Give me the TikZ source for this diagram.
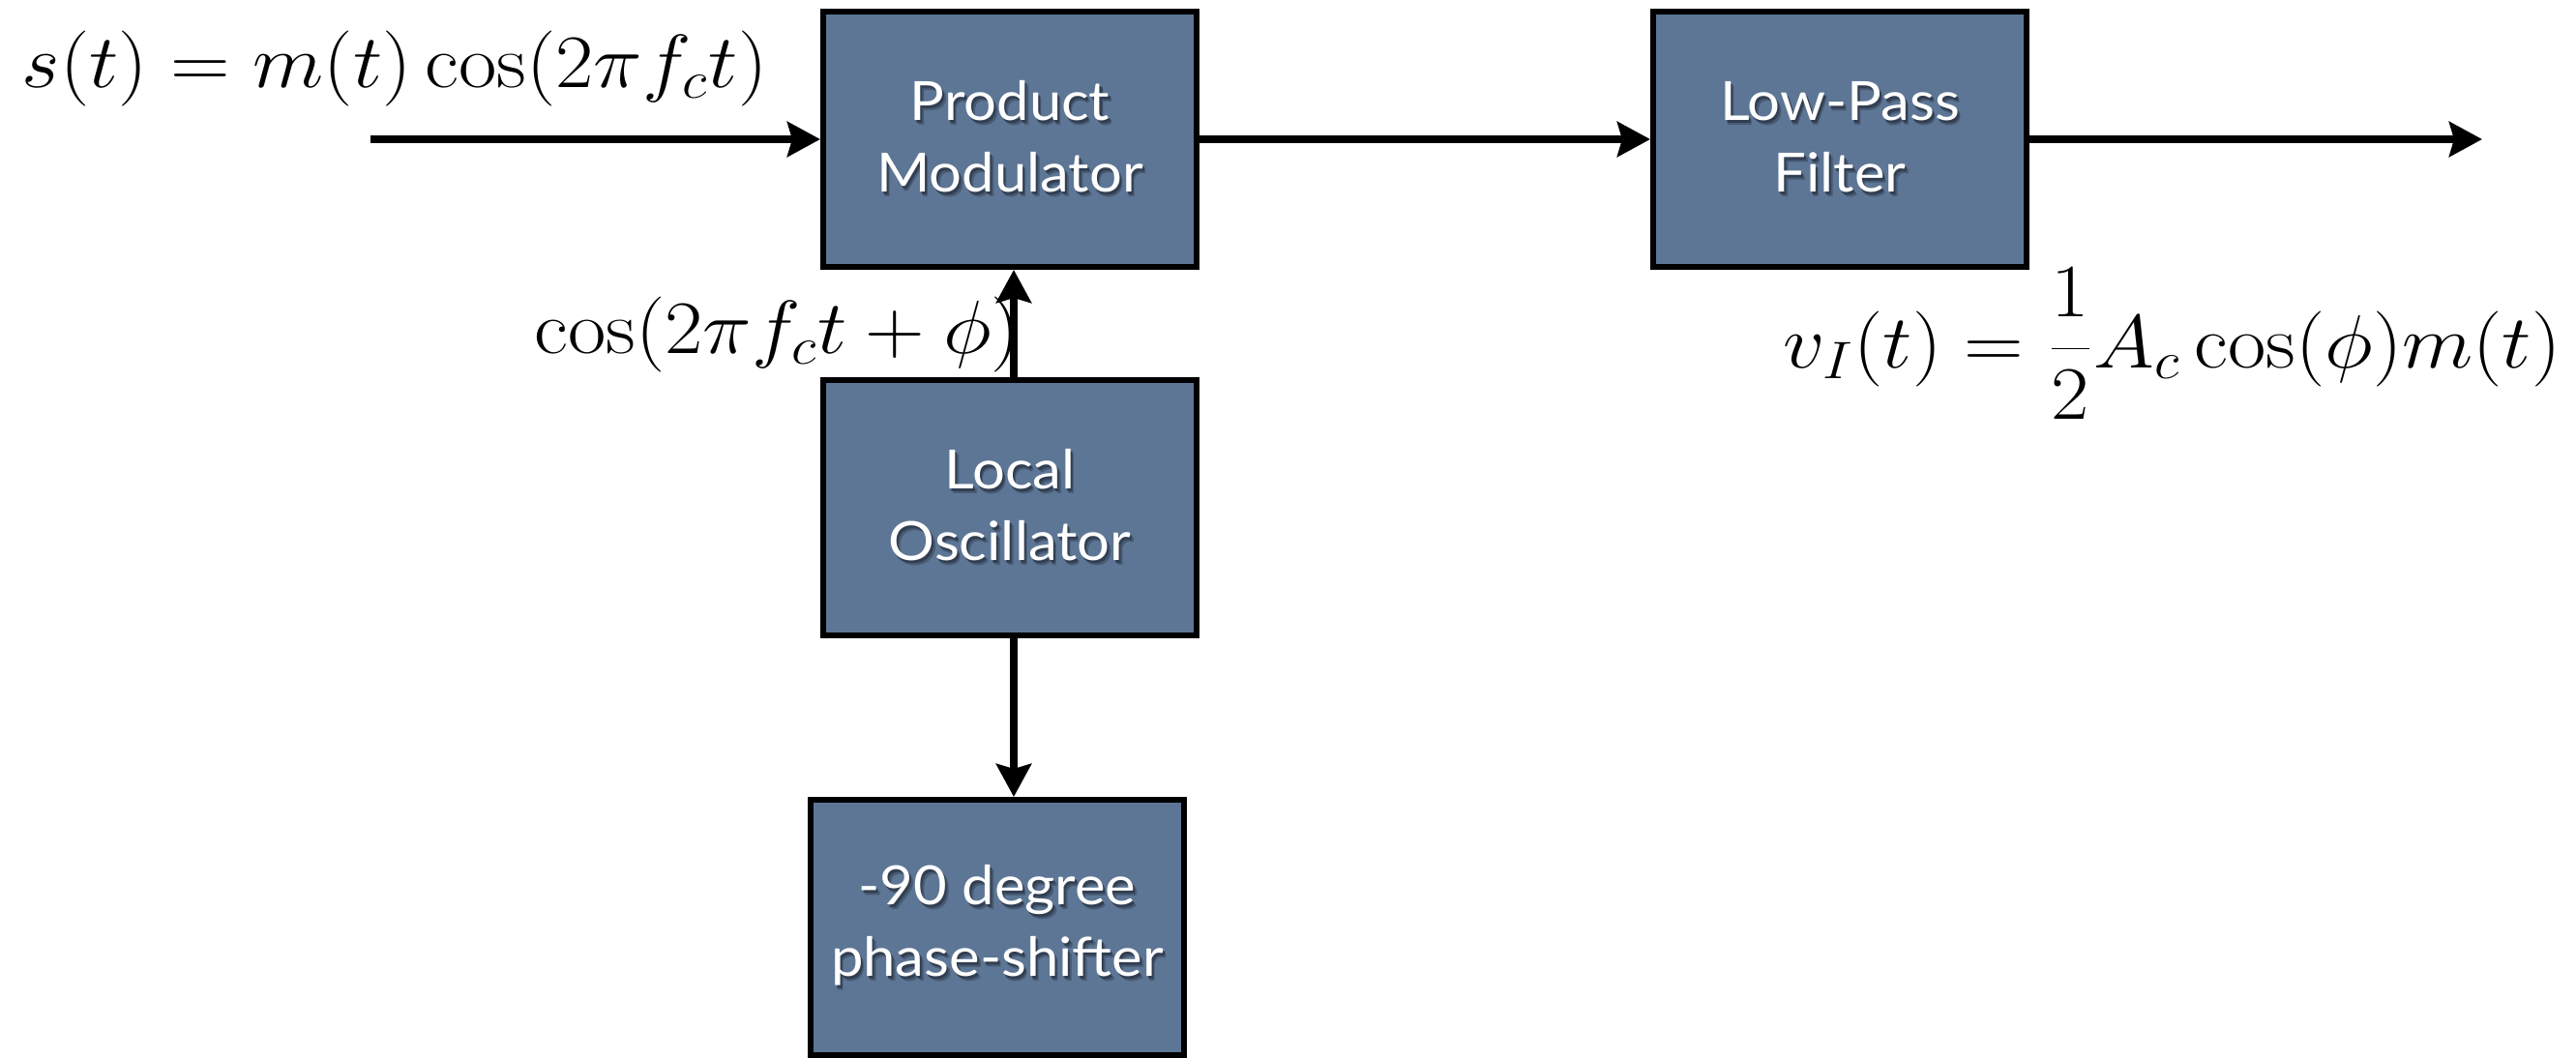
\RequirePackage{fix-cm}
\documentclass[tikz,border=0pt]{standalone}
\usepackage{graphicx}
\usepackage{fontspec}
\newfontfamily\boxfont[FakeStretch=1.07]{Lato}
\usetikzlibrary{arrows.meta}

\definecolor{boxc}{RGB}{93,118,149}
\definecolor{shadowc}{RGB}{50,63,82}
\definecolor{shadowl}{RGB}{72,91,116}

% white label with a soft dark drop shadow
\newcommand\shd[1]{\leavevmode
  \rlap{\kern0.035cm\raisebox{-0.05cm}{\textcolor{shadowl}{#1}}}%
  \rlap{\kern0.02cm\raisebox{-0.03cm}{\textcolor{shadowc}{#1}}}#1}
% slightly widened math
\newcommand\wmath[1]{\scalebox{1.095}[1]{$#1$}}

\begin{document}
\begin{tikzpicture}[
  blk/.style={draw=black, line width=0.06cm, fill=boxc,
    minimum width=3.86cm, minimum height=2.64cm, inner sep=0pt,
    text=white, align=center,
    font=\boxfont\fontsize{15.9pt}{21.05pt}\selectfont},
  arr/.style={line width=0.08cm,
    -{Stealth[length=0.34cm, width=0.36cm, inset=0.05cm]}},
  eq/.style={inner sep=0pt, anchor=base west,
    font=\fontsize{22.2pt}{26pt}\selectfont}
]
\useasboundingbox (0,0) rectangle (26.63,-10.94);

% blocks
\node[blk] (PM)  at (10.44,-1.44) {\shd{Product}\\\shd{Modulator}};
\node[blk] (LPF) at (19.02,-1.44) {\shd{Low-Pass}\\\shd{Filter}};
\node[blk] (LO)  at (10.44,-5.25) {\shd{Local}\\\shd{Oscillator}};
\node[blk] (PS)  at (10.31,-9.59) {\shd{-90 degree}\\\shd{phase-shifter}};

% signal path
\coordinate (in)  at (3.83,-1.44);
\coordinate (out) at (25.66,-1.44);
\draw[arr] (in) -- (PM.west);
\draw[arr] (PM.east) -- (LPF.west);
\draw[arr] (LPF.east) -- (out);

% oscillator branches
\coordinate (loup) at ([xshift=0.04cm]LO.north);
\coordinate (lodn) at ([xshift=0.04cm]LO.south);
\draw[arr] (loup) -- (loup |- PM.south);
\draw[arr] (lodn) -- (lodn |- PS.north);

% signal expressions
\node[eq] (sin) at (0.22,-0.90) {\wmath{s(t) = m(t)\cos(2\pi f_c t)}};
\node[eq] (lo)  at (5.52,-3.65) {\wmath{\cos(2\pi f_c t + \phi)}};
\node[eq] (vi)  at (18.43,-3.80) {\wmath{v_I(t) = \displaystyle\frac{1}{2}A_c\cos(\phi)m(t)}};
\end{tikzpicture}
\end{document}
